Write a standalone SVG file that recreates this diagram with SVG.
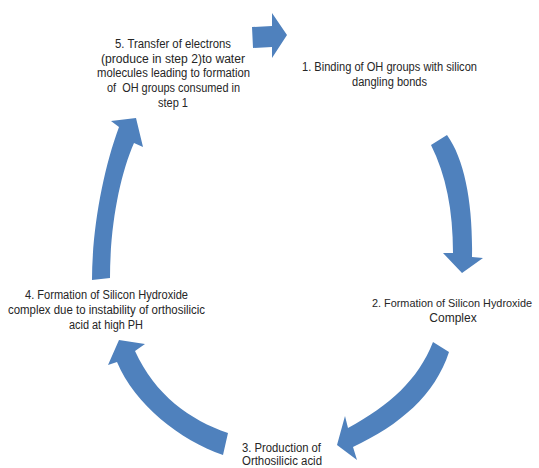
<svg xmlns="http://www.w3.org/2000/svg" width="539" height="468" viewBox="0 0 539 468">
<style>
.arr{fill:#4F81BD;stroke:none}
text{font-family:"Liberation Sans",Arial,sans-serif;font-size:12px;fill:#262626;white-space:pre}
text.sm{font-size:11px}
</style>
<rect width="539" height="468" fill="#ffffff"/>
<g id="connectors">
<path class="arr" d="M252,27 L272,26 L272,13 L287,35 L272,58 L272,47 L253,48 Z"/>
<path class="arr" d="M431,145 L447,135 C465,160 473,205 472,257 L483,258 L462,273 L443,253 L453,253 C453,210 446,175 431,145 Z"/>
<path class="arr" d="M433,342 L449,352 C435,395 400,425 353,447 L357,460 L337,445 L345,416 L348,428 C390,405 418,380 433,342 Z"/>
<path class="arr" d="M228,433 L223,455 C180,440 135,405 117,362 L108,365 L119,340 L145,344 L135,351 C155,395 190,420 228,433 Z"/>
<path class="arr" d="M92,280 C92,230 103,170 119,127 L111,121 L136,118 L143,147 L134,143 C120,175 110,225 110,278 Z"/>
</g>
<g id="node1">
<text x="302" y="71" textLength="175" lengthAdjust="spacingAndGlyphs">1. Binding of OH groups with silicon</text>
<text x="352" y="85.7" textLength="75" lengthAdjust="spacingAndGlyphs">dangling bonds</text>
</g>
<g id="node2">
<text class="sm" x="372" y="307" textLength="160" lengthAdjust="spacingAndGlyphs">2. Formation of Silicon Hydroxide</text>
<text x="453" y="321.7" text-anchor="middle">Complex</text>
</g>
<g id="node3">
<text x="242" y="452" textLength="79" lengthAdjust="spacingAndGlyphs">3. Production of</text>
<text x="242" y="465" textLength="80" lengthAdjust="spacingAndGlyphs">Orthosilicic acid</text>
</g>
<g id="node4">
<text x="25" y="299" textLength="163" lengthAdjust="spacingAndGlyphs">4. Formation of Silicon Hydroxide</text>
<text x="8" y="314" textLength="197" lengthAdjust="spacingAndGlyphs">complex due to instability of orthosilicic</text>
<text x="69" y="329" textLength="74" lengthAdjust="spacingAndGlyphs">acid at high PH</text>
</g>
<g id="node5">
<text x="115" y="47.7" textLength="116" lengthAdjust="spacingAndGlyphs">5. Transfer of electrons</text>
<text x="101" y="62.5" textLength="144" lengthAdjust="spacingAndGlyphs">(produce in step 2)to water</text>
<text x="97" y="77.2" textLength="153" lengthAdjust="spacingAndGlyphs">molecules leading to formation</text>
<text x="107" y="92" textLength="133" lengthAdjust="spacingAndGlyphs" xml:space="preserve">of  OH groups consumed in</text>
<text x="158" y="106.7" textLength="30" lengthAdjust="spacingAndGlyphs">step 1</text>
</g>
</svg>
